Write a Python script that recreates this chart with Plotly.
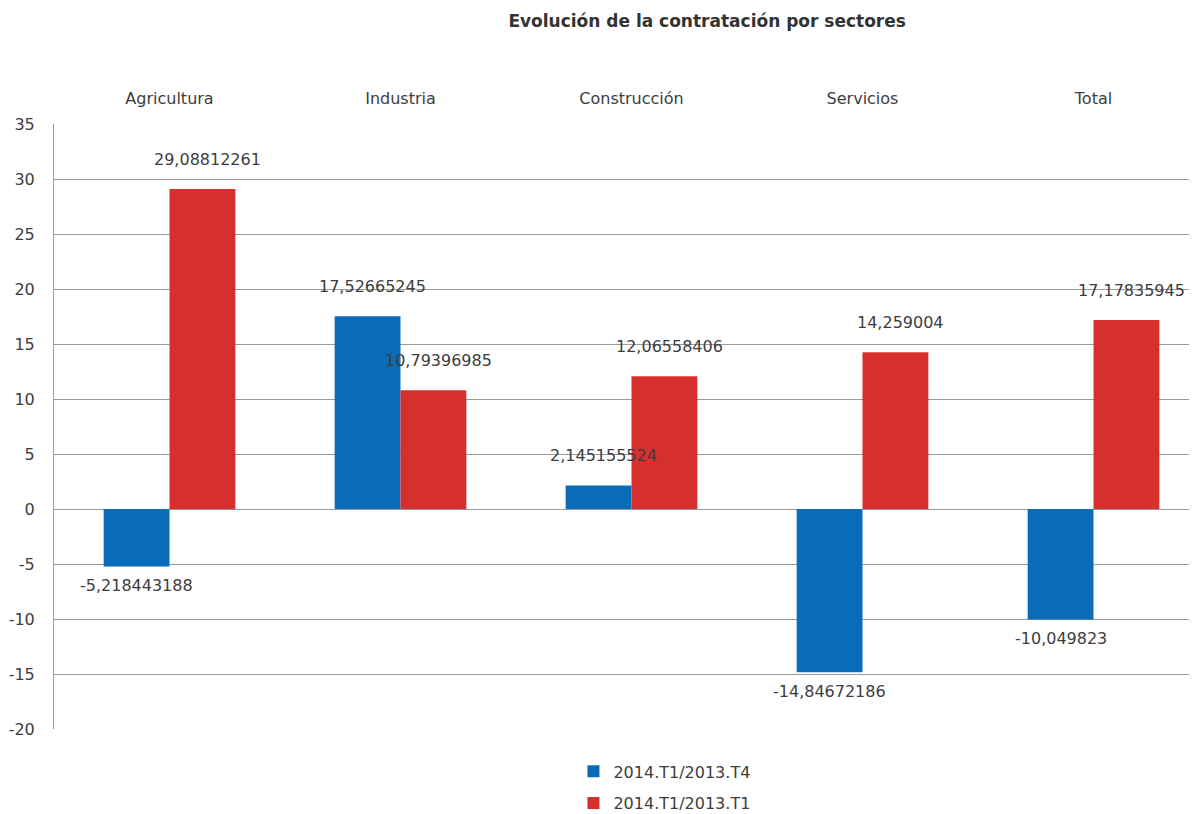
import plotly.graph_objects as go

categories = ["Agricultura", "Industria", "Construcción", "Servicios", "Total"]
serie_t4 = [-5.218443188, 17.52665245, 2.145155524, -14.84672186, -10.049823]
serie_t1 = [29.08812261, 10.79396985, 12.06558406, 14.259004, 17.17835945]
names = ["2014.T1/2013.T4", "2014.T1/2013.T1"]
colors = ["#0a6cb8", "#d6302e"]
y_ticks = [-20, -15, -10, -5, 0, 5, 10, 15, 20, 25, 30, 35]
y_tick_labels = ["-20", "-15", "-10", "-5", "0", "5", "10", "15", "20", "25", "30", "35"]

FONT = "'DejaVu Sans', sans-serif"
TXT = "#3d3d3d"

def fmt(v):
    return str(v).replace(".", ",")

fig = go.Figure()
for i, (vals, nm, col) in enumerate(zip([serie_t4, serie_t1], names, colors)):
    fig.add_trace(go.Bar(
        x=categories, y=vals, name=nm, marker=dict(color=col, line=dict(width=0)),
        legendgroup=nm,
    ))

annotations = []
for i, vals in enumerate([serie_t4, serie_t1]):
    side = -1 if i == 0 else 1
    for c, v in zip(categories, vals):
        pos = v >= 0
        annotations.append(dict(
            x=c, y=v, xref="x", yref="y", text=fmt(v), showarrow=False,
            xshift=side * 33 + (5 if pos else 0), yshift=30 if pos else -19,
            yanchor="middle", xanchor="center",
            font=dict(family=FONT, size=16, color=TXT),
        ))

fig.update_layout(
    width=1189, height=806,
    paper_bgcolor="white", plot_bgcolor="white",
    margin=dict(l=46, r=2, t=116, b=85, autoexpand=False),
    barmode="group", bargap=0.43, bargroupgap=0,
    title=dict(text="<b>Evolución de la contratación por sectores</b>",
               x=0.588, xanchor="center", y=0.984, yanchor="middle",
               font=dict(family=FONT, size=17, color="#333333")),
    font=dict(family=FONT, size=16, color=TXT),
    xaxis=dict(side="top", range=[-0.5, -0.5 + 1141 / 231], showgrid=False,
               showline=False, ticks="", automargin=False, ticklabelstandoff=16,
               tickfont=dict(size=16, color=TXT)),
    yaxis=dict(range=[-20, 35], tickvals=y_ticks, ticktext=y_tick_labels,
               showgrid=True, gridcolor="#9a9a9a",
               gridwidth=1, zeroline=True, zerolinecolor="#9a9a9a", zerolinewidth=1,
               showline=True, linecolor="#9a9a9a", linewidth=1, ticks="",
               automargin=False, ticklabelstandoff=15, tickfont=dict(size=16, color=TXT)),
    legend=dict(orientation="v", x=0.535, xanchor="center", y=-0.042, yanchor="top",
                tracegroupgap=8, font=dict(family=FONT, size=16, color=TXT)),
    annotations=annotations,
)

fig.write_html("out.html")
